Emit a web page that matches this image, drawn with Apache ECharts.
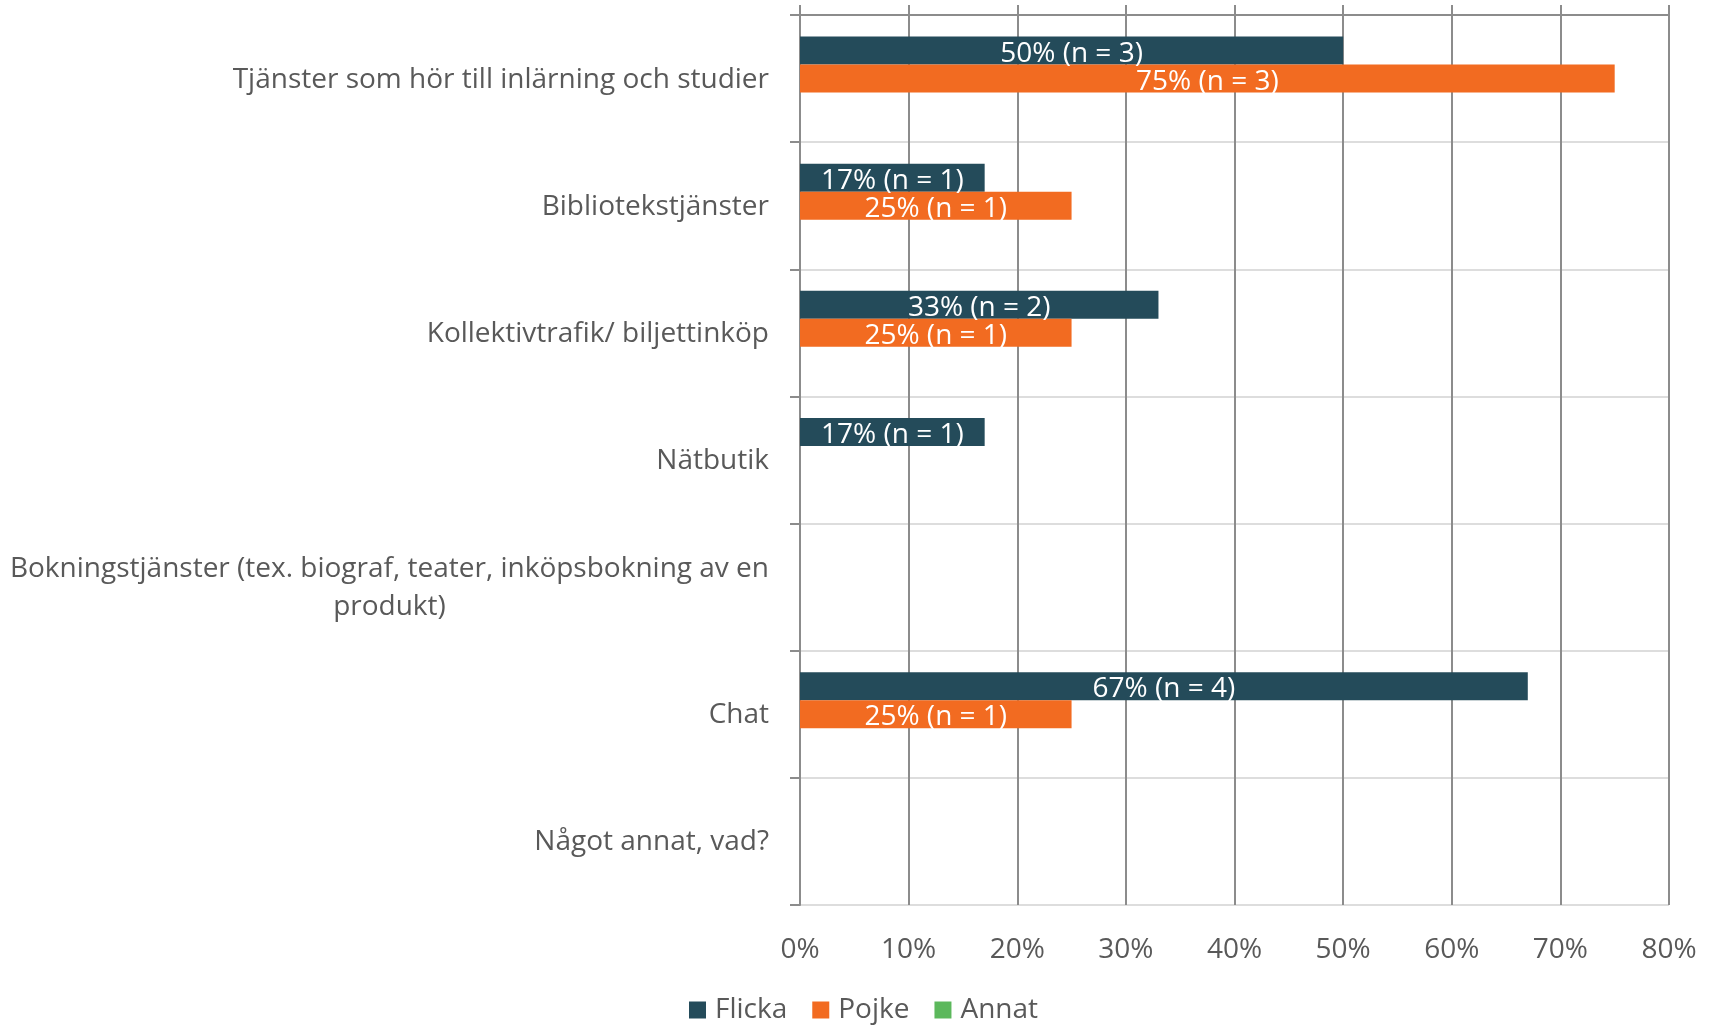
<!DOCTYPE html>
<html>
<head>
<meta charset="utf-8">
<script src="https://cdn.jsdelivr.net/npm/echarts@6/dist/echarts.min.js"></script>
<style>
html,body{margin:0;padding:0;background:#fff;}
#chart{width:1716px;height:1025px;}
</style>
</head>
<body>
<div id="chart"></div>
<script>
const categories = [
  "Tjänster som hör till inlärning och studier",
  "Bibliotekstjänster",
  "Kollektivtrafik/ biljettinköp",
  "Nätbutik",
  "Bokningstjänster (tex. biograf, teater, inköpsbokning av en produkt)",
  "Chat",
  "Något annat, vad?"
];
const seriesNames = ["Flicka", "Pojke", "Annat"];
const flickaPct = [50, 17, 33, 17, null, 67, null];
const flickaN   = [3, 1, 2, 1, null, 4, null];
const pojkePct  = [75, 25, 25, null, null, 25, null];
const pojkeN    = [3, 1, 1, null, null, 1, null];
const annatPct  = [null, null, null, null, null, null, null];
const annatN    = [null, null, null, null, null, null, null];
const xTicks = [0, 10, 20, 30, 40, 50, 60, 70, 80];

const FONT = "'Open Sans', 'Noto Sans', sans-serif";
const GRAY_TEXT = '#595959';
const colors = ['#244B5A', '#F26B21', '#5CB85C'];

function wrapLabel(s, maxChars) {
  const words = s.split(' ');
  const lines = [];
  let cur = '';
  words.forEach(w => {
    if (cur && (cur + ' ' + w).length > maxChars) { lines.push(cur); cur = w; }
    else cur = cur ? cur + ' ' + w : w;
  });
  if (cur) lines.push(cur);
  return lines.map(l => '{c|' + l + '}').join('\n');
}

function mkSeries(name, pct, ns, color) {
  return {
    name: name,
    type: 'bar',
    xAxisIndex: 0,
    barWidth: 28,
    barGap: '0%',
    itemStyle: { color: color },
    label: {
      show: true,
      position: 'inside',
      offset: [0, 3],
      color: '#ffffff',
      fontFamily: FONT,
      fontSize: 28,
      formatter: p => (p.value == null ? '' : p.value + '% (n = ' + ns[p.dataIndex] + ')')
    },
    data: pct
  };
}

const chart = echarts.init(document.getElementById('chart'), null, { renderer: 'canvas' });
chart.setOption({
  animation: false,
  backgroundColor: '#ffffff',
  color: colors,
  grid: { left: 800, right: 47, top: 15, bottom: 120, containLabel: false },
  legend: {
    data: seriesNames,
    bottom: -4,
    left: 684,
    icon: 'rect',
    itemWidth: 17,
    itemHeight: 17,
    itemGap: 25,
    textStyle: { fontFamily: FONT, fontSize: 28, color: GRAY_TEXT, padding: [0, 0, 0, 4] }
  },
  xAxis: [
    {
      type: 'value',
      position: 'bottom',
      min: xTicks[0],
      max: xTicks[xTicks.length - 1],
      interval: xTicks[1] - xTicks[0],
      axisLine: { show: false },
      axisTick: { show: false },
      splitLine: { show: true, lineStyle: { color: '#8C8C8C', width: 2 } },
      axisLabel: {
        margin: 31,
        fontFamily: FONT,
        fontSize: 28,
        color: GRAY_TEXT,
        formatter: v => v + '%'
      }
    },
    {
      type: 'value',
      position: 'top',
      min: xTicks[0],
      max: xTicks[xTicks.length - 1],
      interval: xTicks[1] - xTicks[0],
      axisLine: { show: true, lineStyle: { color: '#8C8C8C', width: 2 } },
      axisTick: { show: true, inside: false, length: 10, lineStyle: { color: '#8C8C8C', width: 2 } },
      splitLine: { show: false },
      axisLabel: { show: false }
    }
  ],
  yAxis: {
    type: 'category',
    inverse: true,
    data: categories,
    axisLine: { show: true, lineStyle: { color: '#8C8C8C', width: 2 } },
    axisTick: { show: true, inside: false, length: 10, lineStyle: { color: '#8C8C8C', width: 2 } },
    splitLine: { show: true, lineStyle: { color: '#DDDDDD', width: 2 } },
    axisLabel: {
      margin: 31,
      align: 'right',
      formatter: v => wrapLabel(v, 60),
      rich: {
        c: { align: 'center', fontFamily: FONT, fontSize: 28, color: GRAY_TEXT, lineHeight: 38, padding: [2, 0, 0, 0] }
      }
    }
  },
  series: [
    mkSeries(seriesNames[0], flickaPct, flickaN, colors[0]),
    mkSeries(seriesNames[1], pojkePct, pojkeN, colors[1]),
    mkSeries(seriesNames[2], annatPct, annatN, colors[2])
  ]
});
</script>
</body>
</html>
